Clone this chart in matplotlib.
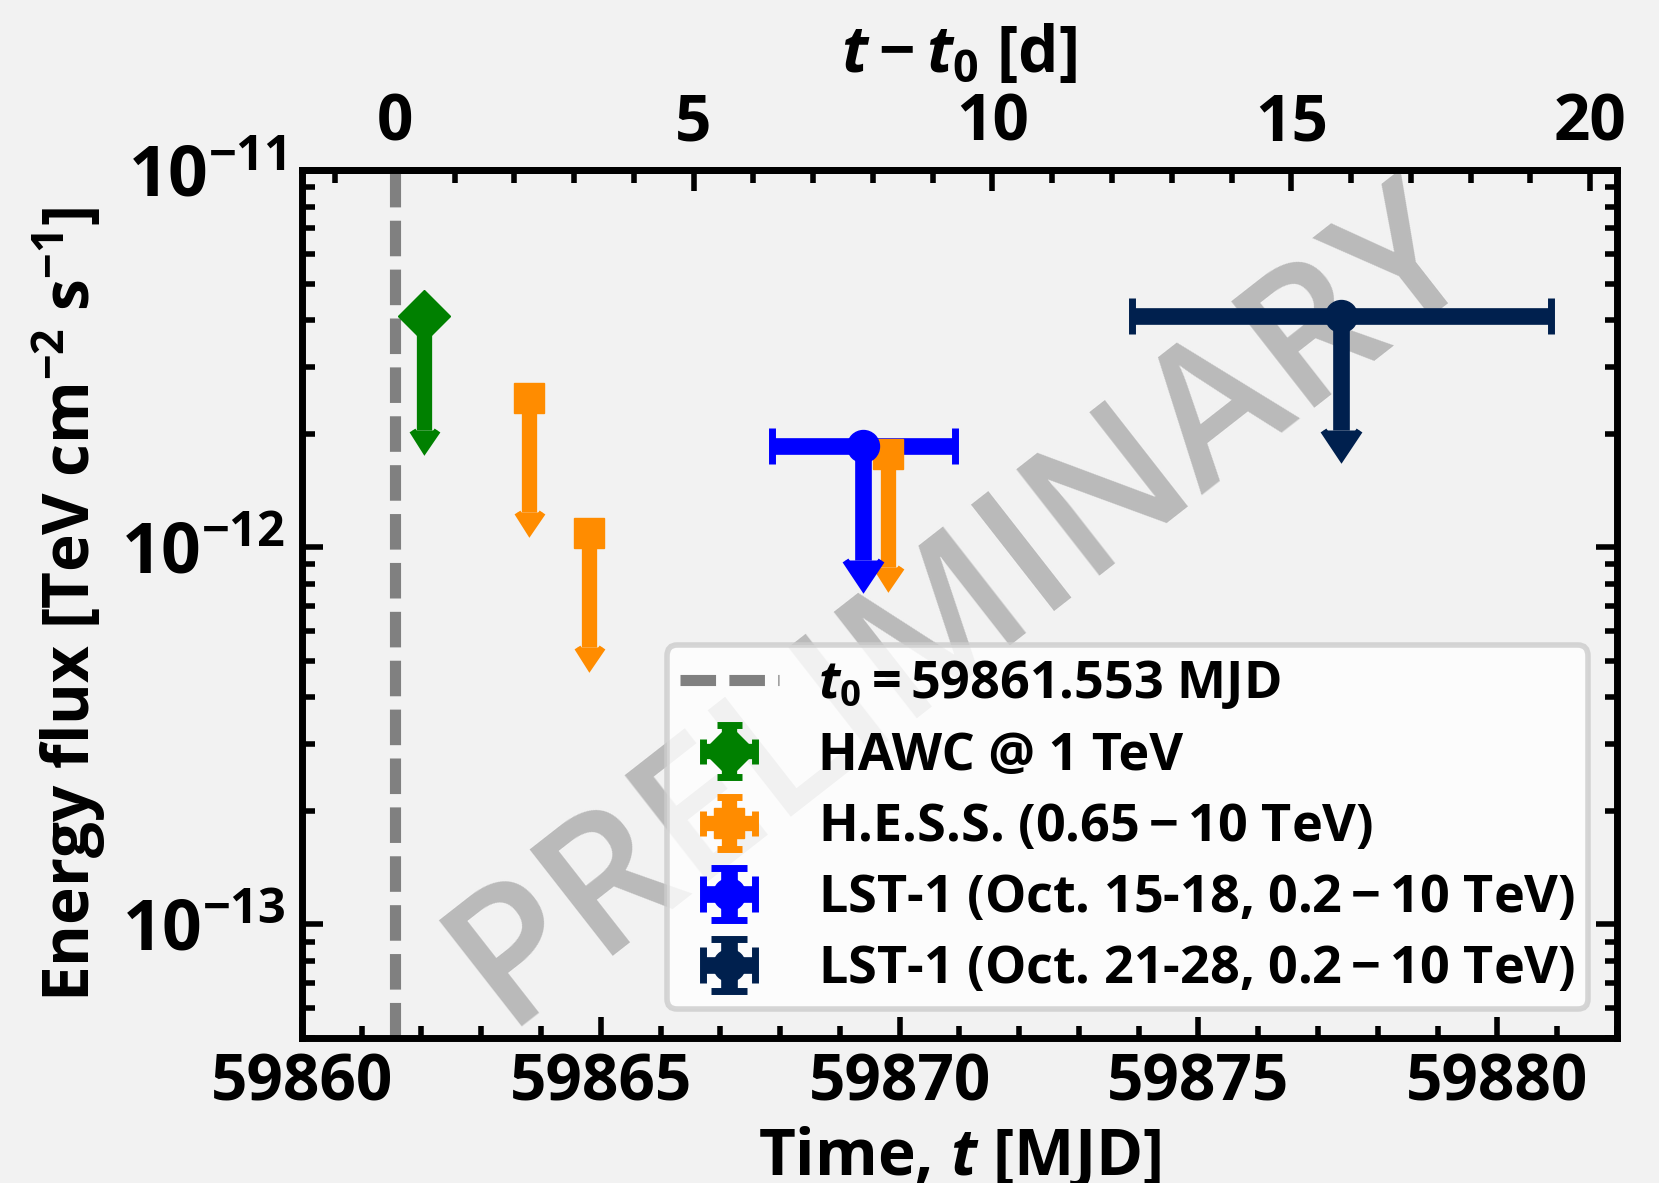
import numpy as np
import matplotlib
matplotlib.use("Agg")
import matplotlib.pyplot as plt
from matplotlib.ticker import MultipleLocator, LogLocator, NullFormatter

plt.rcParams['font.family'] = ['Open Sans', 'DejaVu Sans']
plt.rcParams['font.weight'] = 'bold'
plt.rcParams['axes.labelweight'] = 'bold'
plt.rcParams['mathtext.fontset'] = 'custom'
plt.rcParams['mathtext.rm'] = 'Open Sans:bold'
plt.rcParams['mathtext.bf'] = 'Open Sans:bold'
plt.rcParams['mathtext.it'] = 'Open Sans:bold:italic'
plt.rcParams['mathtext.fallback'] = 'stixsans'

t0 = 59861.553

# HAWC @ 1 TeV (upper limit)
hawc_t = [59862.05]
hawc_f = [4.1e-12]

# H.E.S.S. upper limits
hess_t = [59863.80, 59864.81, 59869.81]
hess_f = [2.48e-12, 1.09e-12, 1.77e-12]

# LST-1 Oct. 15-18
lst1_t = [59869.39]
lst1_terr = [1.53]
lst1_f = [1.85e-12]

# LST-1 Oct. 21-28
lst2_t = [59877.39]
lst2_terr = [3.5]
lst2_f = [4.1e-12]

bg = '#f2f2f2'
fig = plt.figure(figsize=(16.59, 11.83), dpi=100, facecolor=bg)
ax = fig.add_axes([0.182, 0.1226, 0.7926, 0.7337])
ax.set_facecolor(bg)

ax.axvline(t0, color='gray', lw=8, ls=(0, (3.2, 1.2)), zorder=1,
           label=r'$t_0 = 59861.553$ MJD')

def ul(x, y, xerr, color, marker, ms, elw, cs, label):
    y = np.array(y)
    ax.errorbar(x, y, xerr=xerr, yerr=0.5 * y, uplims=True, fmt=marker,
                color=color, ms=ms, elinewidth=elw, capsize=cs, capthick=5,
                label=label, zorder=3)

ul(hawc_t, hawc_f, [0.0], 'green', 'D', 26, 11, 9, 'HAWC @ 1 TeV')
ul(hess_t, hess_f, [0.0] * 3, 'darkorange', 's', 22, 11, 9,
   r'H.E.S.S. ($0.65 - 10$ TeV)')
ul(lst1_t, lst1_f, lst1_terr, 'blue', 'o', 23, 12, 13,
   r'LST-1 (Oct. 15-18, $0.2 - 10$ TeV)')
ul(lst2_t, lst2_f, lst2_terr, '#00204e', 'o', 23, 12, 13,
   r'LST-1 (Oct. 21-28, $0.2 - 10$ TeV)')

ax.set_yscale('log')
ax.set_xlim(59860, 59882)
ax.set_ylim(5e-14, 1e-11)
ax.xaxis.set_major_locator(MultipleLocator(5))
ax.xaxis.set_minor_locator(MultipleLocator(1))
ax.yaxis.set_minor_locator(LogLocator(base=10, subs=np.arange(2, 10)))
ax.yaxis.set_minor_formatter(NullFormatter())

for s in ax.spines.values():
    s.set_linewidth(5)
ax.tick_params(which='both', direction='in', width=4, labelsize=46,
               right=True, top=False)
ax.tick_params(which='major', length=15)
ax.tick_params(which='minor', length=9)
ax.tick_params(axis='x', pad=10)
ax.tick_params(axis='y', pad=12, labelsize=50)

top = ax.secondary_xaxis('top', functions=(lambda x: x - t0, lambda x: x + t0))
top.xaxis.set_major_locator(MultipleLocator(5))
top.xaxis.set_minor_locator(MultipleLocator(1))
top.tick_params(which='both', direction='in', width=4, labelsize=46, pad=10)
top.tick_params(which='major', length=15)
top.tick_params(which='minor', length=9)
top.spines['top'].set_linewidth(5)
top.set_xlabel(r'$t - t_0$ [d]', fontsize=46, labelpad=14)

ax.set_xlabel(r'Time, $t$ [MJD]', fontsize=46, labelpad=6)
ax.set_ylabel(r'Energy flux [TeV cm$^{-2}$ s$^{-1}$]', fontsize=46, labelpad=10)

ax.text(0.502, 0.497, 'PRELIMINARY', transform=ax.transAxes, fontsize=136,
        fontweight='semibold', color='#bababa', rotation=38,
        ha='center', va='center', zorder=2)

leg = ax.legend(loc='lower right', fontsize=37.5, framealpha=0.8,
                edgecolor='#cccccc', handlelength=1.9, handletextpad=0.75,
                labelspacing=0.35, borderpad=0.25, borderaxespad=0.55)
leg.get_frame().set_linewidth(4)
leg.set_zorder(5)

fig.savefig('out.png', dpi=100, facecolor=bg)
